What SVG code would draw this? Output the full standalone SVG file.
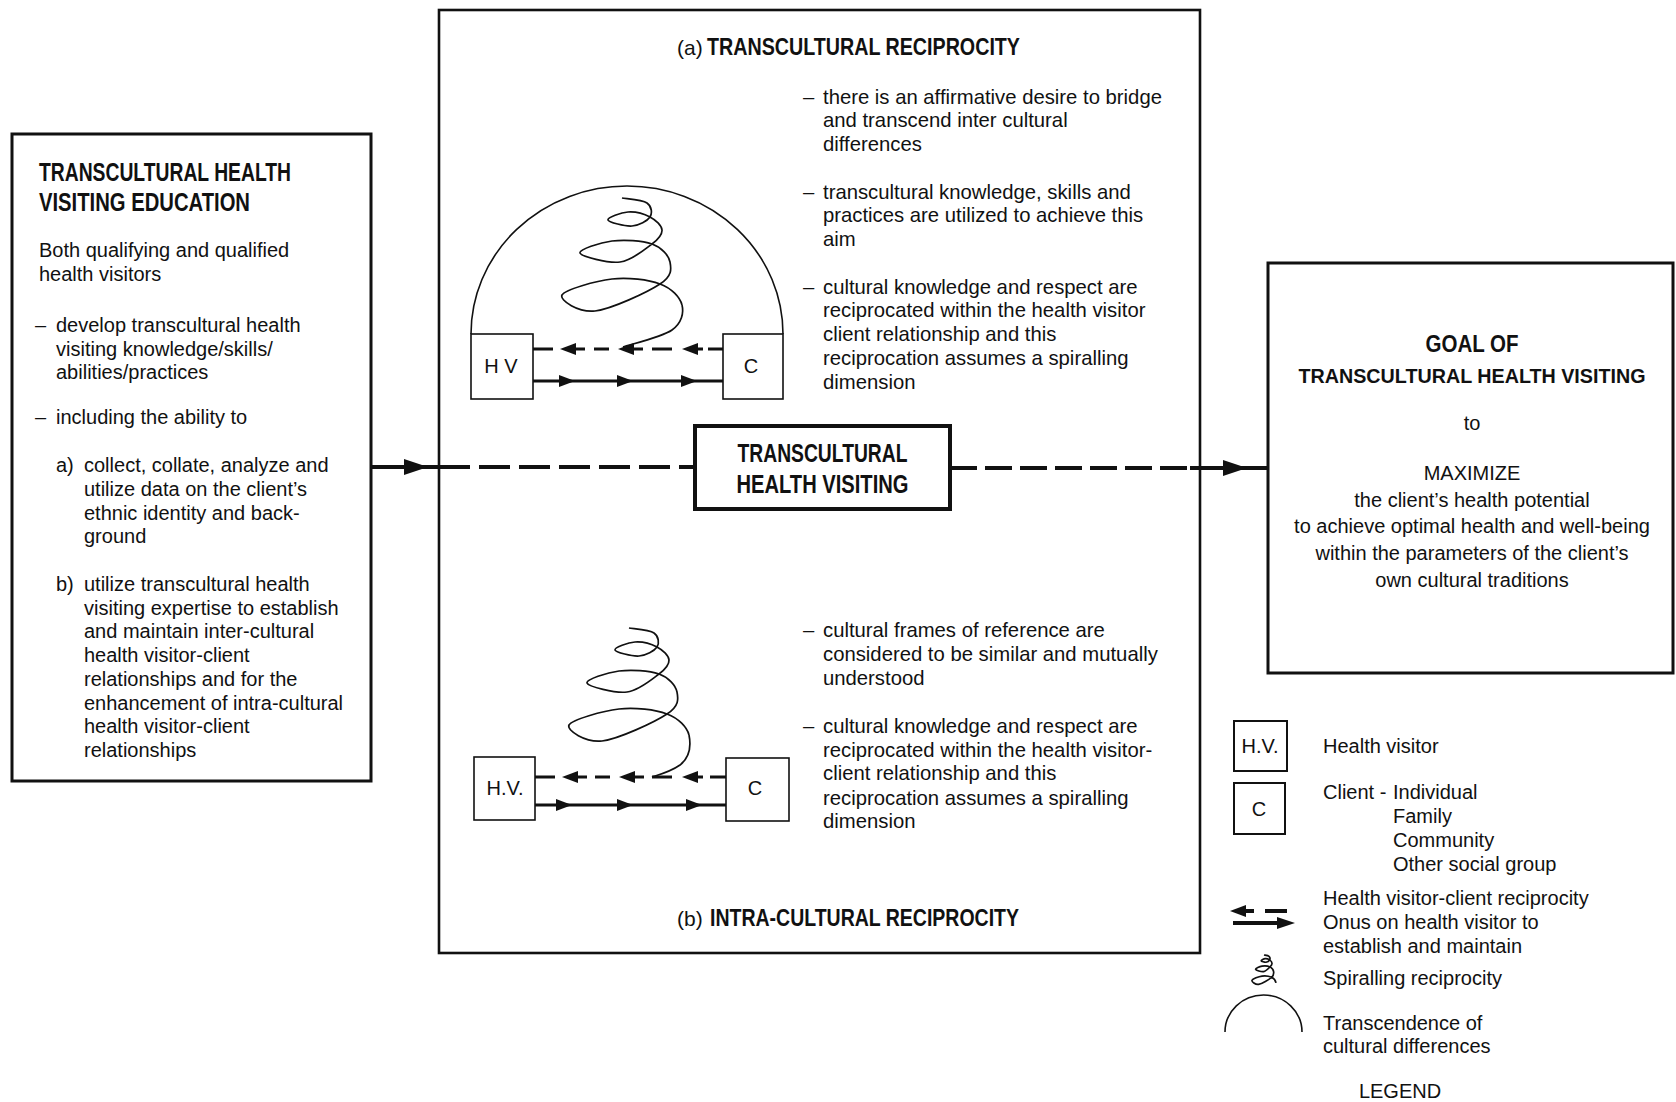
<svg xmlns="http://www.w3.org/2000/svg" xmlns:xlink="http://www.w3.org/1999/xlink" width="1676" height="1102" viewBox="0 0 1676 1102">
<style>
.bg{fill:#fff}
.box{fill:none;stroke:#111;stroke-width:3}
.cbox{fill:#fff;stroke:#111;stroke-width:4}
.sbox{fill:#fff;stroke:#111;stroke-width:1.6}
.lbox{fill:#fff;stroke:#111;stroke-width:2}
.t{font-family:"Liberation Sans",Arial,sans-serif;font-size:20px;fill:#111}
.m{font-size:20.3px}
.b{font-weight:bold}
.h1{font-size:25px}
.h2{font-size:23px}
.h3{font-size:26px}
.h4{font-size:24px}
.h5{font-size:20.5px}
.pa{font-size:21px}
.c{text-anchor:middle}
.conn{stroke:#111;stroke-width:4;fill:none}
.sl{stroke:#111;stroke-width:3;fill:none}
.thin{stroke:#111;stroke-width:1.6;fill:none}
.coil{stroke:#111;stroke-width:1.7;fill:none;vector-effect:non-scaling-stroke}
.ah{fill:#111;stroke:none}
</style>
<defs>
<path id="ahL" d="M0,0 L-24,-8 L-24,8 Z"/>
<path id="ahS" d="M0,0 L-16,-6 L-16,6 Z"/>
<path id="coilp" class="coil" d="M622,198 C626.2,198.8 642.3,199.8 647,203 C651.7,206.2 652.5,213.2 650,217 C647.5,220.8 639,225.5 632,226 C625,226.5 608.7,222.3 608,220 C607.3,217.7 621,212.5 628,212 C635,211.5 644.3,214 650,217 C655.7,220 661.7,225.5 662,230 C662.3,234.5 659,238.7 652,244 C645,249.3 632,260.5 620,262 C608,263.5 581.3,256.5 580,253 C578.7,249.5 600,242.5 612,241 C624,239.5 642.3,240.5 652,244 C661.7,247.5 668.7,255.3 670,262 C671.3,268.7 672.5,275.8 660,284 C647.5,292.2 611.3,309.2 595,311 C578.7,312.8 559.2,300.3 562,295 C564.8,289.7 595.7,280.8 612,279 C628.3,277.2 648.3,279.7 660,284 C671.7,288.3 680,297.3 682,305"/>
</defs>
<rect class="bg" x="0" y="0" width="1676" height="1102"/>

<g id="connectors">
  <path class="conn" d="M372,467 H439"/>
  <use xlink:href="#ahL" class="ah" transform="translate(428,467)"/>
  <path class="conn" d="M439,467 H695" stroke-dasharray="31 9"/>
  <path class="conn" d="M950,468 H1190" stroke-dasharray="27 8"/>
  <path class="conn" d="M1190,468 H1268"/>
  <use xlink:href="#ahL" class="ah" transform="translate(1247,468)"/>
</g>

<g id="node-education">
  <rect class="box" x="12" y="134" width="359" height="647"/>
  <text class="t b h1" x="39" y="181" textLength="252" lengthAdjust="spacingAndGlyphs">TRANSCULTURAL HEALTH</text>
  <text class="t b h1" x="39" y="211" textLength="211" lengthAdjust="spacingAndGlyphs">VISITING EDUCATION</text>
  <text class="t" x="39" y="257">Both qualifying and qualified</text>
  <text class="t" x="39" y="281">health visitors</text>
  <text class="t" x="35" y="332">–<tspan x="56">develop transcultural health</tspan></text>
  <text class="t" x="56" y="356">visiting knowledge/skills/</text>
  <text class="t" x="56" y="379">abilities/practices</text>
  <text class="t" x="35" y="424">–<tspan x="56">including the ability to</tspan></text>
  <text class="t" x="56" y="472">a)<tspan x="84">collect, collate, analyze and</tspan></text>
  <text class="t" x="84" y="496">utilize data on the client’s</text>
  <text class="t" x="84" y="520">ethnic identity and back-</text>
  <text class="t" x="84" y="543">ground</text>
  <text class="t" x="56" y="591">b)<tspan x="84">utilize transcultural health</tspan></text>
  <text class="t" x="84" y="615">visiting expertise to establish</text>
  <text class="t" x="84" y="638">and maintain inter-cultural</text>
  <text class="t" x="84" y="662">health visitor-client</text>
  <text class="t" x="84" y="686">relationships and for the</text>
  <text class="t" x="84" y="710">enhancement of intra-cultural</text>
  <text class="t" x="84" y="733">health visitor-client</text>
  <text class="t" x="84" y="757">relationships</text>
</g>

<g id="node-reciprocity">
  <rect class="box" x="439" y="10" width="761" height="943" style="stroke-width:2.6"/>
  <text class="t pa" x="677" y="55">(a)</text>
  <text class="t b h2" x="707" y="55" textLength="313" lengthAdjust="spacingAndGlyphs">TRANSCULTURAL RECIPROCITY</text>
  <text class="t m" x="803" y="104">–<tspan x="823">there is an affirmative desire to bridge</tspan></text>
  <text class="t m" x="823" y="127">and transcend inter cultural</text>
  <text class="t m" x="823" y="151">differences</text>
  <text class="t m" x="803" y="199">–<tspan x="823">transcultural knowledge, skills and</tspan></text>
  <text class="t m" x="823" y="222">practices are utilized to achieve this</text>
  <text class="t m" x="823" y="246">aim</text>
  <text class="t m" x="803" y="294">–<tspan x="823">cultural knowledge and respect are</tspan></text>
  <text class="t m" x="823" y="317">reciprocated within the health visitor</text>
  <text class="t m" x="823" y="341">client relationship and this</text>
  <text class="t m" x="823" y="365">reciprocation assumes a spiralling</text>
  <text class="t m" x="823" y="389">dimension</text>

  <text class="t m" x="803" y="637">–<tspan x="823">cultural frames of reference are</tspan></text>
  <text class="t m" x="823" y="661">considered to be similar and mutually</text>
  <text class="t m" x="823" y="685">understood</text>
  <text class="t m" x="803" y="733">–<tspan x="823">cultural knowledge and respect are</tspan></text>
  <text class="t m" x="823" y="757">reciprocated within the health visitor-</text>
  <text class="t m" x="823" y="780">client relationship and this</text>
  <text class="t m" x="823" y="805">reciprocation assumes a spiralling</text>
  <text class="t m" x="823" y="828">dimension</text>
  <text class="t pa" x="677" y="926">(b)</text>
  <text class="t b h2" x="710" y="926" textLength="309" lengthAdjust="spacingAndGlyphs">INTRA-CULTURAL RECIPROCITY</text>
</g>

<g id="diagram-a">
  <path class="thin" d="M471,334 A156 148 0 0 1 783,334"/>
  <use xlink:href="#coilp"/>
  <path class="coil" d="M682,305 C684,312.7 681.8,323 672,330 C662.2,337 631.2,344.2 623,347"/>
  <path class="sl" d="M533,349 H553 M575,349 H585 M594,349 H609 M633,349 H643 M652,349 H672 M697,349 H703 M708,349 H723"/>
  <use xlink:href="#ahS" class="ah" transform="translate(560,349) rotate(180)"/>
  <use xlink:href="#ahS" class="ah" transform="translate(618,349) rotate(180)"/>
  <use xlink:href="#ahS" class="ah" transform="translate(682,349) rotate(180)"/>
  <path class="sl" d="M533,381 H723"/>
  <use xlink:href="#ahS" class="ah" transform="translate(575,381)"/>
  <use xlink:href="#ahS" class="ah" transform="translate(633,381)"/>
  <use xlink:href="#ahS" class="ah" transform="translate(697,381)"/>
  <g id="hv-a"><rect class="sbox" x="471" y="334" width="62" height="65"/><text class="t c" x="501" y="373">H V</text></g>
  <g id="c-a"><rect class="sbox" x="723" y="334" width="60" height="65"/><text class="t c" x="751" y="373">C</text></g>
</g>

<g id="diagram-b">
  <use xlink:href="#coilp" transform="translate(7,430)"/>
  <path class="coil" d="M689,735 C691,745 690,757 680,765 C670,772 658,775 652,777"/>
  <path class="sl" d="M535,777 H555 M577,777 H587 M595,777 H610 M634,777 H644 M652,777 H672 M697,777 H703 M710,777 H726"/>
  <use xlink:href="#ahS" class="ah" transform="translate(562,777) rotate(180)"/>
  <use xlink:href="#ahS" class="ah" transform="translate(619,777) rotate(180)"/>
  <use xlink:href="#ahS" class="ah" transform="translate(682,777) rotate(180)"/>
  <path class="sl" d="M535,805 H726"/>
  <use xlink:href="#ahS" class="ah" transform="translate(572,805)"/>
  <use xlink:href="#ahS" class="ah" transform="translate(633,805)"/>
  <use xlink:href="#ahS" class="ah" transform="translate(702,805)"/>
  <g id="hv-b"><rect class="sbox" x="474" y="757" width="61" height="63"/><text class="t c" x="505" y="795">H.V.</text></g>
  <g id="c-b"><rect class="sbox" x="726" y="758" width="63" height="63"/><text class="t c" x="755" y="795">C</text></g>
</g>

<g id="node-center">
  <rect class="cbox" x="695" y="426" width="255" height="83"/>
  <text class="t b c h3" x="822.5" y="462" textLength="170" lengthAdjust="spacingAndGlyphs">TRANSCULTURAL</text>
  <text class="t b c h3" x="822.5" y="493" textLength="172" lengthAdjust="spacingAndGlyphs">HEALTH VISITING</text>
</g>

<g id="node-goal">
  <rect class="box" x="1268" y="263" width="405" height="410"/>
  <text class="t b c h4" x="1472" y="352" textLength="93" lengthAdjust="spacingAndGlyphs">GOAL OF</text>
  <text class="t b c h5" x="1472" y="383" textLength="347" lengthAdjust="spacingAndGlyphs">TRANSCULTURAL HEALTH VISITING</text>
  <text class="t c" x="1472" y="430">to</text>
  <text class="t c" x="1472" y="480">MAXIMIZE</text>
  <text class="t c" x="1472" y="507">the client’s health potential</text>
  <text class="t c" x="1472" y="533">to achieve optimal health and well-being</text>
  <text class="t c" x="1472" y="560">within the parameters of the client’s</text>
  <text class="t c" x="1472" y="587">own cultural traditions</text>
</g>

<g id="legend">
  <rect class="lbox" x="1234" y="721" width="53" height="50"/>
  <text class="t c" x="1260" y="753">H.V.</text>
  <rect class="lbox" x="1234" y="783" width="51" height="51"/>
  <text class="t c" x="1259" y="816">C</text>
  <text class="t" x="1323" y="753">Health visitor</text>
  <text class="t" x="1323" y="799">Client -<tspan x="1393">Individual</tspan></text>
  <text class="t" x="1393" y="823">Family</text>
  <text class="t" x="1393" y="847">Community</text>
  <text class="t" x="1393" y="871">Other social group</text>
  <path class="conn" d="M1240,911 H1254 M1265,911 H1287"/>
  <path class="ah" d="M1230,911 L1246,905 L1246,917 Z"/>
  <path class="conn" d="M1233,923 H1282"/>
  <path class="ah" d="M1295,923 L1277,917 L1277,929 Z"/>
  <text class="t" x="1323" y="905">Health visitor-client reciprocity</text>
  <text class="t" x="1323" y="929">Onus on health visitor to</text>
  <text class="t" x="1323" y="953">establish and maintain</text>
  <use xlink:href="#coilp" transform="translate(1139.6,903.5) scale(0.2,0.26)"/>
  <text class="t" x="1323" y="985">Spiralling reciprocity</text>
  <path class="thin" d="M1225,1032 A38.5 37 0 0 1 1302,1032"/>
  <text class="t" x="1323" y="1030">Transcendence of</text>
  <text class="t" x="1323" y="1053">cultural differences</text>
  <text class="t c" x="1400" y="1098">LEGEND</text>
</g>
</svg>
